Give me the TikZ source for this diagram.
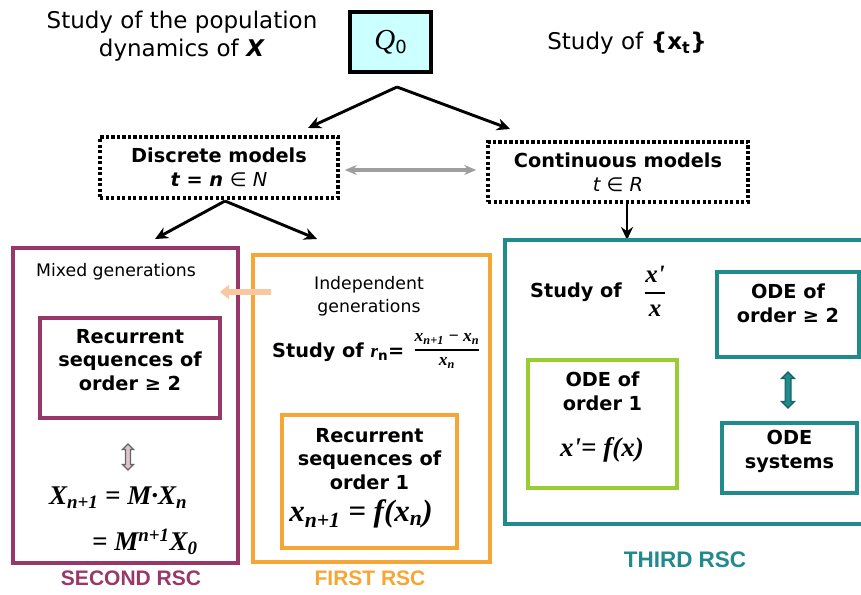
\documentclass[tikz,border=0pt]{standalone}
\usepackage{fontspec}
\setmainfont{DejaVu Sans}
\newfontfamily\eqfont{Liberation Serif}
\newfontfamily\capfont{Liberation Sans}
\usetikzlibrary{arrows.meta,shapes.arrows}
\definecolor{rscpurple}{RGB}{152,56,106}
\definecolor{rscorange}{RGB}{246,166,52}
\definecolor{rscteal}{RGB}{32,138,140}
\definecolor{odegreen}{RGB}{155,204,50}
\definecolor{qcyan}{RGB}{204,255,255}
\definecolor{pinkfill}{RGB}{222,196,206}
\definecolor{softorange}{RGB}{250,200,160}
\begin{document}
\begin{tikzpicture}[
			x=1pt, y=-1pt,
			plaintext/.style={align=center, inner sep=0pt, font=\fontsize{23}{28}\selectfont},
			smalltext/.style={align=center, inner sep=0pt, font=\fontsize{17.3}{23}\selectfont},
			boldtext/.style={align=center, inner sep=0pt, font=\bfseries\fontsize{19.3}{23.5}\selectfont},
			eqtext/.style={inner sep=0pt, font=\eqfont\bfseries\itshape\fontsize{#1}{30}\selectfont},
			eqtext/.default=27,
			rsclabel/.style={inner sep=0pt, font=\capfont\bfseries\fontsize{#1}{24}\selectfont},
			rsclabel/.default=21,
			dotbox/.style={draw, line width=3.5pt, dash pattern=on 3.2pt off 2.3pt, inner sep=0pt, align=center, font=\bfseries\fontsize{19.3}{24}\selectfont},
			framebox/.style={draw=#1, line width=3.6pt, inner sep=0pt},
			arr/.style={-{Stealth[length=13pt,width=12pt]}, line width=2.9pt},
			grayarr/.style={{Stealth[length=12pt,width=10pt]}-{Stealth[length=12pt,width=10pt]}, line width=3.5pt, draw=black!38},
			softarr/.style={-{Triangle[length=9pt,width=14pt]}, line width=5.5pt, draw=softorange},
			dblarrow/.style={double arrow, rotate=90, draw=#1, line width=1.2pt, inner sep=1.8pt, double arrow head extend=3pt}
		]
		\useasboundingbox (0,0) rectangle (861,594);

		% top
		\node[plaintext] (pop) at (182,36) {Study of the population\\dynamics of \textbf{\textit{X}}};
		\node[draw, line width=4.5pt, fill=qcyan, minimum width=81, minimum height=60, inner sep=0pt] (q0) at (390.5,42)
			{{\eqfont\itshape\fontsize{29}{29}\selectfont Q}{\fontsize{18}{18}\selectfont\raisebox{-4pt}{0}}};
		\node[plaintext] (studyx) at (627,43) {Study of \textbf{\{x\textsubscript{t}\}}};

		\node[dotbox, minimum width=238, minimum height=61] (discrete) at (219,167.5)
			{Discrete models\\\textit{t = n} \textmd{\textit{∈ N}}};
		\node[dotbox, minimum width=260, minimum height=60] (continuous) at (618,172)
			{Continuous models\\\textmd{\textit{t ∈ R}}};

		\coordinate (fork) at (397,87);
		\coordinate (dtip) at (308,128);
		\coordinate (ctip) at (510,129);
		\draw[arr] (fork) -- (dtip);
		\draw[arr] (fork) -- (ctip);
		\draw[grayarr, shorten <=5pt, shorten >=10pt] ([yshift=-2.5pt]discrete.east) -- ([yshift=-2.5pt]discrete.east -| continuous.west);

		\coordinate (dfork) at (225,201);
		\coordinate (secondtip) at (155,239);
		\coordinate (firsttip) at (317,239);
		\coordinate (thirdtip) at (627,240);
		\draw[arr] (dfork) -- (secondtip);
		\draw[arr] (dfork) -- (firsttip);
		\draw[arr] (thirdtip |- continuous.south) -- (thirdtip);

		% second RSC
		\node[framebox=rscpurple, minimum width=225, minimum height=315] (second) at (125.5,405.5) {};
		\node[smalltext] (mixed) at (116,272) {Mixed generations};
		\node[framebox=rscpurple, minimum width=180, minimum height=100] (rec2) at (130,368) {};
		\node[boldtext] (rec2text) at (130,360) {Recurrent\\sequences of\\order ≥ 2};
		\node[dblarrow=black!60, fill=pinkfill, minimum height=26, minimum width=11] (pinkarrow) at (128,457) {};
		\node[eqtext, anchor=west] (eqa) at (49,498) {X\textsubscript{n+1} = M·X\textsubscript{n}};
		\node[eqtext, anchor=west] (eqb) at (92,542) {= M\textsuperscript{n+1}X\textsubscript{0}};
		\node[rsclabel, text=rscpurple] (secondlabel) at (131,578) {SECOND RSC};

		% first RSC
		\node[framebox=rscorange, minimum width=237, minimum height=307] (first) at (371.5,408.5) {};
		\coordinate (softstart) at (271,292);
		\coordinate (softend) at (220,292);
		\draw[softarr] (softstart) -- (softend);
		\node[smalltext] (indep) at (369,296) {Independent\\generations};
		\node[boldtext, anchor=west] (studyr) at (272,352) {Study of {\eqfont\itshape r}\textsubscript{n}=};
		\node[eqtext=17.5] (rfrac) at (447,351)
			{$\displaystyle{\hbox{x\textsubscript{n+1} − x\textsubscript{n}}\above 1.6pt\hbox{x\textsubscript{n}}}$};
		\node[framebox=rscorange, minimum width=175, minimum height=133] (rec1) at (369.5,481.5) {};
		\node[boldtext] (rec1text) at (369.5,459) {Recurrent\\sequences of\\order 1};
		\node[eqtext=31] (eqc) at (361,514) {x\textsubscript{n+1} = f(x\textsubscript{n})};
		\node[rsclabel, text=rscorange] (firstlabel) at (370,578) {FIRST RSC};

		% third RSC
		\node[framebox=rscteal, minimum width=370, minimum height=284] (third) at (690,382) {};
		\node[boldtext, anchor=west] (studyq) at (530,292) {Study of};
		\node[eqtext=25] (qfrac) at (655,291)
			{$\displaystyle{\hbox{x'}\above 1.6pt\hbox{x}}$};
		\node[framebox=rscteal, minimum width=142, minimum height=85] (odehigh) at (788,314.5) {};
		\node[boldtext] (odehightext) at (788,303.5) {ODE of\\order ≥ 2};
		\node[dblarrow=rscteal!70!black, fill=rscteal, minimum height=36, minimum width=13] (tealarrow) at (788,390) {};
		\node[framebox=rscteal, minimum width=135, minimum height=70] (odesys) at (789.5,458) {};
		\node[boldtext] (odesystext) at (789.5,451.5) {ODE\\systems};
		\node[framebox=odegreen, minimum width=149, minimum height=128] (ode1) at (602.5,424) {};
		\node[boldtext] (ode1text) at (602.5,391.5) {ODE of\\order 1};
		\node[eqtext] (eqd) at (602,450) {x'= f(x)};
		\node[rsclabel=22.5, text=rscteal] (thirdlabel) at (685,560) {THIRD RSC};
	\end{tikzpicture}
\end{document}
